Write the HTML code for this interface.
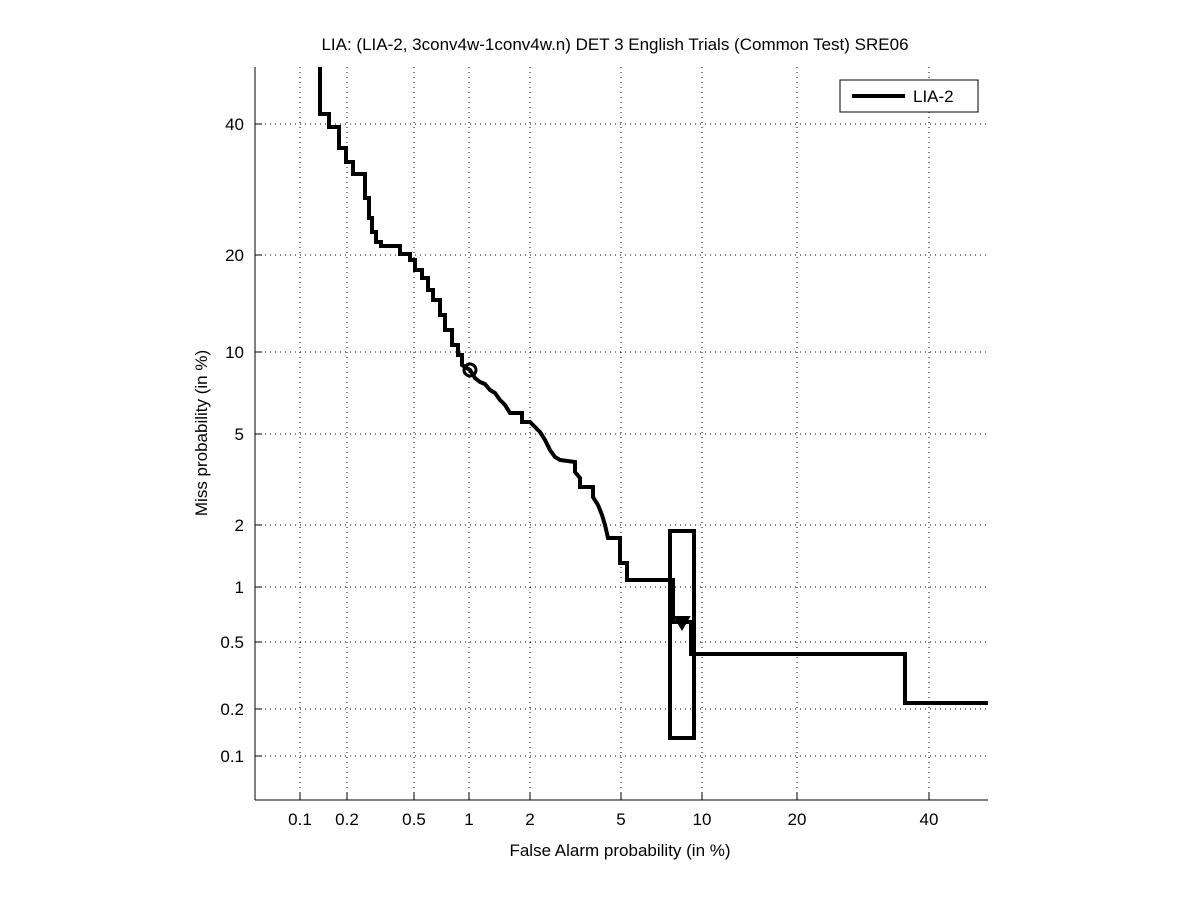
<!DOCTYPE html>
<html><head><style>
body{margin:0;background:#fff;}
svg text{font-family:"Liberation Sans",sans-serif;font-size:17px;fill:#000;}
</style></head><body>
<svg width="1201" height="900" viewBox="0 0 1201 900">
<rect width="1201" height="900" fill="#fff"/>
<g stroke="#000" stroke-width="1" stroke-dasharray="1,4">
<line x1="300" y1="67" x2="300" y2="800"/><line x1="347" y1="67" x2="347" y2="800"/>
<line x1="414" y1="67" x2="414" y2="800"/><line x1="469" y1="67" x2="469" y2="800"/>
<line x1="530" y1="67" x2="530" y2="800"/><line x1="621" y1="67" x2="621" y2="800"/>
<line x1="702" y1="67" x2="702" y2="800"/><line x1="797" y1="67" x2="797" y2="800"/>
<line x1="929" y1="67" x2="929" y2="800"/>
<line x1="255" y1="124" x2="988" y2="124"/><line x1="255" y1="255" x2="988" y2="255"/>
<line x1="255" y1="352" x2="988" y2="352"/><line x1="255" y1="434" x2="988" y2="434"/>
<line x1="255" y1="525" x2="988" y2="525"/><line x1="255" y1="587" x2="988" y2="587"/>
<line x1="255" y1="642" x2="988" y2="642"/><line x1="255" y1="709" x2="988" y2="709"/>
<line x1="255" y1="756" x2="988" y2="756"/>
</g>
<g stroke="#000" stroke-width="1">
<line x1="255" y1="67" x2="255" y2="800"/><line x1="255" y1="800" x2="988" y2="800"/>
<line x1="300" y1="800" x2="300" y2="793"/><line x1="347" y1="800" x2="347" y2="793"/>
<line x1="414" y1="800" x2="414" y2="793"/><line x1="469" y1="800" x2="469" y2="793"/>
<line x1="530" y1="800" x2="530" y2="793"/><line x1="621" y1="800" x2="621" y2="793"/>
<line x1="702" y1="800" x2="702" y2="793"/><line x1="797" y1="800" x2="797" y2="793"/>
<line x1="929" y1="800" x2="929" y2="793"/>
<line x1="255" y1="124" x2="262" y2="124"/><line x1="255" y1="255" x2="262" y2="255"/>
<line x1="255" y1="352" x2="262" y2="352"/><line x1="255" y1="434" x2="262" y2="434"/>
<line x1="255" y1="525" x2="262" y2="525"/><line x1="255" y1="587" x2="262" y2="587"/>
<line x1="255" y1="642" x2="262" y2="642"/><line x1="255" y1="709" x2="262" y2="709"/>
<line x1="255" y1="756" x2="262" y2="756"/>
</g>
<g text-anchor="middle">
<text x="300" y="825">0.1</text><text x="347" y="825">0.2</text><text x="414" y="825">0.5</text>
<text x="469" y="825">1</text><text x="530" y="825">2</text><text x="621" y="825">5</text>
<text x="702" y="825">10</text><text x="797" y="825">20</text><text x="929" y="825">40</text>
<text x="620" y="856">False Alarm probability (in %)</text>
<text x="615" y="50">LIA: (LIA-2, 3conv4w-1conv4w.n) DET 3 English Trials (Common Test) SRE06</text>
</g>
<g text-anchor="end">
<text x="244" y="130">40</text><text x="244" y="261">20</text><text x="244" y="358">10</text>
<text x="244" y="440">5</text><text x="244" y="531">2</text><text x="244" y="593">1</text>
<text x="244" y="648">0.5</text><text x="244" y="715">0.2</text><text x="244" y="762">0.1</text>
</g>
<text transform="translate(207,433) rotate(-90)" text-anchor="middle">Miss probability (in %)</text>
<polyline fill="none" stroke="#000" stroke-width="4" points="320,67 320,114 329,114 329,127 339,127 339,148 346,148 346,162 353,162 353,174 365,174 365,198 369,198 369,218 372,218 372,232 376,232 376,242 381,242 381,246 400,246 400,254 410,254 410,260 415,260 415,270 422,270 422,278 428,278 428,290 433,290 433,300 440,300 440,315 445,315 445,330 452,330 452,345 458,345 458,355 462,355 462,365 470,370 475,378 480,382 485,384 490,390 495,393 500,400 505,405 510,413 522,413 522,422 530,422 535,427 540,432 545,440 550,450 555,457 560,460 575,462 575,472 580,478 580,487 593,487 593,497 598,505 602,515 605,525 608,538 620,538 620,563 627,563 627,580 670,580 673,580 673,622 691,622 691,654 905,654 905,703 988,703"/>
<circle cx="470" cy="370" r="6" fill="none" stroke="#000" stroke-width="3"/>
<rect x="670" y="531" width="24" height="207" fill="none" stroke="#000" stroke-width="4"/>
<polygon points="675,617 689,617 682,629" fill="#000" stroke="#000" stroke-width="2"/>
<rect x="840" y="80" width="138" height="32" fill="#fff" stroke="#000" stroke-width="1"/>
<line x1="852" y1="96" x2="905" y2="96" stroke="#000" stroke-width="4"/>
<text x="913" y="102">LIA-2</text>
</svg>
</body></html>
